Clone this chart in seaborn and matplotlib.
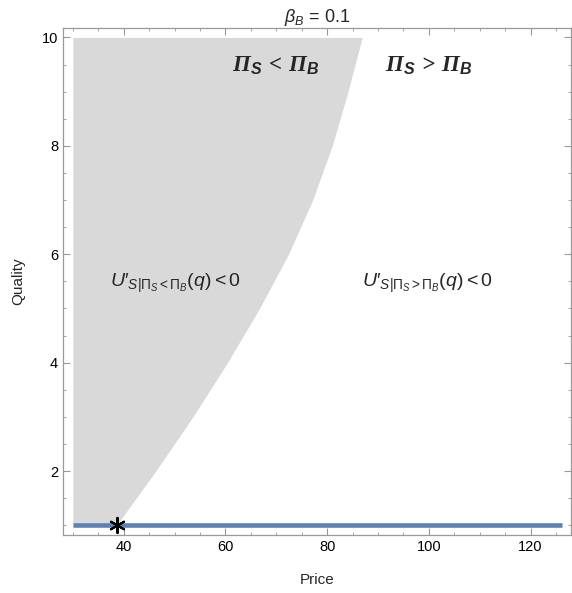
import numpy as np
import pandas as pd
import matplotlib
matplotlib.use("Agg")
import matplotlib.pyplot as plt
from matplotlib.ticker import MultipleLocator
import seaborn as sns

# boundary of the region where Pi_S < Pi_B
boundary_quality = [1.0, 2.0, 3.0, 4.0, 5.0, 6.0, 7.0, 8.0, 9.0, 10.0]
boundary_price = [38.6, 46.3, 53.6, 60.4, 66.7, 72.4, 77.15, 81.0, 84.1, 86.9]
region_left_price = 30.0

# horizontal line at the minimum quality
line_price = [30.0, 126.2]
line_quality = [1.0, 1.0]

# the starred point
star_price = [38.6]
star_quality = [1.0]

title = r"$\beta_B$ = 0.1"
x_label = "Price"
y_label = "Quality"

sns.set_theme(style="ticks")
plt.rcParams["font.family"] = ["Liberation Sans", "DejaVu Sans"]
plt.rcParams["mathtext.fontset"] = "custom"
plt.rcParams["mathtext.rm"] = "Liberation Sans"
plt.rcParams["mathtext.it"] = "Liberation Sans:italic"
plt.rcParams["mathtext.bf"] = "Liberation Serif:italic:bold"
plt.rcParams["mathtext.sf"] = "Liberation Sans:italic:bold"

fig = plt.figure(figsize=(5.72, 5.93), dpi=100)
ax = fig.add_axes([0.1101, 0.0978, 0.8876, 0.8555])

# shaded region
ax.fill_betweenx(boundary_quality, region_left_price, boundary_price,
                 color="#d9d9d9", linewidth=0, zorder=1)

line_df = pd.DataFrame({"price": line_price, "quality": line_quality})
sns.lineplot(data=line_df, x="price", y="quality", color="#5e81b5",
             linewidth=3.3, ax=ax, zorder=3, solid_capstyle="butt")

star_df = pd.DataFrame({"price": star_price, "quality": star_quality})
sns.scatterplot(data=star_df, x="price", y="quality", marker=(6, 2, 0),
                s=120, color="black", linewidth=1.5, ax=ax, zorder=4)

# annotations
ax.text(69.9, 9.48, r"$\mathbf{\Pi}_\mathsf{S}\,\mathbf{<}\,\mathbf{\Pi}_\mathsf{B}$",
        fontsize=16.5, ha="center", va="center", zorder=5)
ax.text(100.0, 9.48, r"$\mathbf{\Pi}_\mathsf{S}\,\mathbf{>}\,\mathbf{\Pi}_\mathsf{B}$",
        fontsize=16.5, ha="center", va="center", zorder=5)
ax.text(50.2, 5.47, r"$U\prime_{S|\mathit{\Pi}_S<\mathit{\Pi}_B}(q) < \mathit{0}$",
        fontsize=14, ha="center", va="center", zorder=5)
ax.text(99.8, 5.47, r"$U\prime_{S|\mathit{\Pi}_S>\mathit{\Pi}_B}(q) < \mathit{0}$",
        fontsize=14, ha="center", va="center", zorder=5)

ax.set_xlim(28.05, 127.9)
ax.set_ylim(0.82, 10.18)
ax.xaxis.set_major_locator(MultipleLocator(20))
ax.xaxis.set_minor_locator(MultipleLocator(5))
ax.yaxis.set_major_locator(MultipleLocator(2))
ax.yaxis.set_minor_locator(MultipleLocator(0.5))
ax.tick_params(which="both", direction="in", top=True, right=True,
               color="#999999", labelsize=10.5, labelcolor="black")
ax.tick_params(which="major", length=5, width=0.8)
ax.tick_params(which="minor", length=2.5, width=0.6)
for side in ["left", "right", "top", "bottom"]:
    ax.spines[side].set_visible(True)
    ax.spines[side].set_color("#999999")
    ax.spines[side].set_linewidth(0.9)

ax.set_title(title, fontsize=13, pad=3)
ax.set_xlabel(x_label, fontsize=11, labelpad=14)
ax.set_ylabel(y_label, fontsize=11, labelpad=12)

fig.savefig("out.png", dpi=100)
